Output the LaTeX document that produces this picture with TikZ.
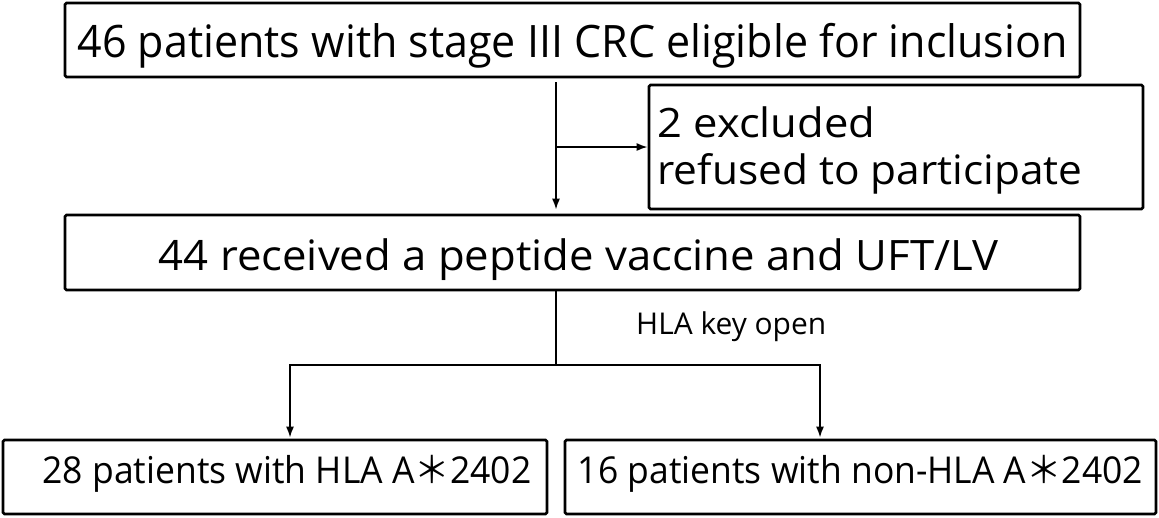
\documentclass[tikz,border=0pt]{standalone}
\usepackage{fontspec}
\usepackage{graphicx}
\setmainfont{Open Sans}
\newfontfamily\cjkfont{Noto Sans CJK JP}
\usetikzlibrary{arrows.meta}
\newcommand{\fitw}[2]{\resizebox{#1}{\height}{#2}}
\newcommand{\bigast}{{\cjkfont ＊}}
\begin{document}
\begin{tikzpicture}[x=1pt,y=-1pt,
  box/.style={draw=black, line width=2.6pt, rounded corners=1.5pt, inner sep=0pt, text depth=0pt},
  conn/.style={draw=black, line width=1.8pt},
  arr/.style={conn, -{Latex[length=11pt,width=8pt]}}]
\useasboundingbox (0,0) rectangle (1159,517);
% boxes
\node[box, minimum width=1015pt, minimum height=74pt, text height=34pt,
      font=\fontsize{44.7}{50}\selectfont] (b1) at (572.5,40)
  {\fitw{990pt}{46 patients with stage III CRC eligible for inclusion}};
\node[box, minimum width=494pt, minimum height=124pt, text height=74pt,
      font=\fontsize{40.5}{47}\selectfont] (b2) at (896,147)
  {\begin{tabular}[b]{@{}l@{}}\fitw{218pt}{2 excluded}\\\fitw{425pt}{refused to participate}\end{tabular}\hspace*{52pt}};
\node[box, minimum width=1015pt, minimum height=75pt, text height=35pt,
      font=\fontsize{41.9}{48}\selectfont] (b3) at (572.5,252.5)
  {\hspace*{12pt}\fitw{839pt}{44 received a peptide vaccine and UFT/LV}};
\node[box, minimum width=544pt, minimum height=74pt, text height=12pt,
      font=\fontsize{37}{42}\selectfont] (b4) at (275,477)
  {\hspace*{24pt}\fitw{489pt}{28 patients with HLA A\bigast2402}};
\node[box, minimum width=591pt, minimum height=74pt, text height=12pt,
      font=\fontsize{37}{42}\selectfont] (b5) at (860.5,477)
  {\fitw{565pt}{16 patients with non-HLA A\bigast2402}};
% label
\node[inner sep=0pt, anchor=base west, font=\fontsize{30}{36}\selectfont] (hla) at (636,334)
  {\fitw{190pt}{HLA key open}};
% junction coordinates
\coordinate (spine) at (556,0);
\coordinate (split) at (556,365);
\coordinate (lt) at (290,365);
\coordinate (rt) at (820,365);
% connectors
\draw[arr, shorten <=4pt, shorten >=4pt] (b1.south -| spine) -- (b3.north -| spine);
\draw[arr] (spine |- b2.west) -- (b2.west);
\draw[conn] (b3.south -| spine) -- (split);
\draw[arr, shorten >=1pt] (split) -- (lt) -- (b4.north -| lt);
\draw[arr, shorten >=1pt] (split) -- (rt) -- (b5.north -| rt);
\end{tikzpicture}
\end{document}
